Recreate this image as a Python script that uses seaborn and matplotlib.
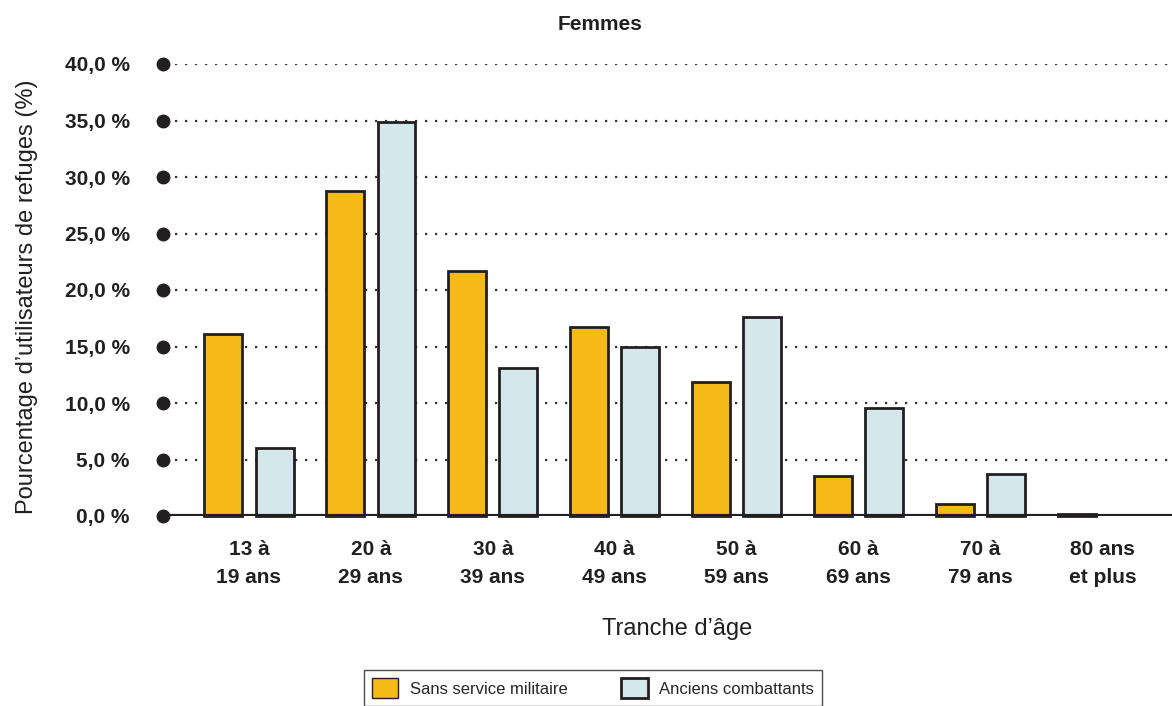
import matplotlib
matplotlib.use("Agg")
import matplotlib.pyplot as plt
import seaborn as sns
import pandas as pd
from matplotlib.patches import Patch
from matplotlib import font_manager

categories = ["13 à\n19 ans", "20 à\n29 ans", "30 à\n39 ans", "40 à\n49 ans",
              "50 à\n59 ans", "60 à\n69 ans", "70 à\n79 ans", "80 ans\net plus"]
sans_service = [16.1, 28.8, 21.7, 16.7, 11.9, 3.5, 1.1, 0.2]
anciens = [6.0, 34.9, 13.1, 15.0, 17.6, 9.6, 3.7, 0.0]
series_names = ["Sans service militaire", "Anciens combattants"]
yticks = [0, 5, 10, 15, 20, 25, 30, 35, 40]
ytick_labels = ["0,0 %", "5,0 %", "10,0 %", "15,0 %", "20,0 %", "25,0 %", "30,0 %", "35,0 %", "40,0 %"]

sns.set_style("white")
avail = {f.name for f in font_manager.fontManager.ttflist}
fam = "Liberation Sans Narrow" if "Liberation Sans Narrow" in avail else "Liberation Sans"
plt.rcParams['font.family'] = [fam, 'DejaVu Sans']

df = pd.DataFrame({
    "cat": categories * 2,
    "val": sans_service + anciens,
    "serie": [series_names[0]] * len(categories) + [series_names[1]] * len(categories),
})

colors = ["#F6BA18", "#D4E8EB"]
edge = "#231F20"

fig = plt.figure(figsize=(11.72, 7.06), dpi=100)
ax = fig.add_axes([163 / 1172, 1 - 516 / 706, 1 - 163 / 1172, (516 - 64) / 706])

sns.barplot(data=df, x="cat", y="val", hue="serie", palette=colors, ax=ax,
            width=0.84, gap=0.26, edgecolor=edge, linewidth=2, legend=False,
            errorbar=None, saturation=1)
for p in ax.patches:
    p.set_clip_on(False)
    p.set_zorder(3)
    if p.get_height() <= 0:
        p.set_visible(False)

ax.set_xlim(-0.705, 7.57)
ax.set_ylim(0, 40)
ax.set_yticks(yticks)
ax.set_yticklabels(ytick_labels, fontsize=15, fontweight="bold", color="#231F20")
ax.tick_params(axis="y", length=0, pad=24)
ax.tick_params(axis="x", length=0, pad=17)
ax.set_xticks(range(len(categories)))
ax.set_xticklabels(categories, fontsize=15, fontweight="bold", color="#231F20", linespacing=1.65)
for s in ax.spines.values():
    s.set_visible(False)

for y in yticks[1:]:
    ax.axhline(y, xmin=0.012, color="#333333", lw=1.6, ls=(0, (1, 3.5)), zorder=1)
ax.axhline(0, xmin=0.0, color=edge, lw=3, zorder=4)
ax.plot([-0.705] * len(yticks), yticks, "o", color=edge, ms=9, clip_on=False, zorder=5)

ax.set_xlabel("Tranche d’âge", fontsize=17, color="#231F20")
ax.xaxis.set_label_coords((677 - 163) / (1172 - 163), -(618 - 516) / (516 - 64))
ax.set_ylabel("Pourcentage d’utilisateurs de refuges (%)", fontsize=17, color="#231F20")
ax.yaxis.set_label_coords(-(163 - 38) / (1172 - 163), (516 - 297) / (516 - 64))

fig.text(600 / 1172, 1 - 25 / 706, "Femmes", ha="center", va="center",
         fontsize=15, fontweight="bold", color="#231F20")

handles = [Patch(facecolor=colors[0], edgecolor=edge, linewidth=1),
           Patch(facecolor=colors[1], edgecolor=edge, linewidth=2)]
leg = fig.legend(handles, series_names, loc="center", bbox_to_anchor=(593 / 1172, 1 - 688 / 706),
                 ncol=2, frameon=True, fancybox=False, edgecolor="#231F20", fontsize=12,
                 handlelength=1.6, handleheight=1.5, handletextpad=0.7, columnspacing=3.2,
                 borderpad=0.45)
leg.get_frame().set_linewidth(1)

fig.savefig("out.png", dpi=100)
